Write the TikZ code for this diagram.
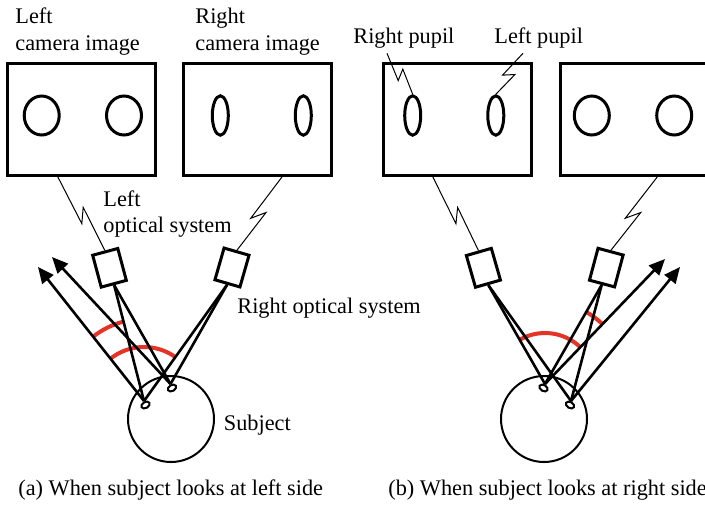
\documentclass[tikz,border=0pt]{standalone}
\usepackage{fontspec}
\setmainfont{Liberation Serif}
\usetikzlibrary{arrows.meta,calc,shapes.geometric}
\definecolor{arcred}{RGB}{228,52,38}

% a thin leader line with a small lightning-style kink
\newcommand\boltline[2]{%
  \draw[leader] (#1) -- ($(#1)!0.6!(#2)!2.5pt!-90:(#2)$)
    -- ($(#1)!0.45!(#2)!2.5pt!90:(#2)$) -- (#2);}

\begin{document}
\begin{tikzpicture}[x=0.5pt,y=-0.5pt,
  txt/.style={inner sep=0pt, anchor=base west, font=\fontsize{11.15pt}{13pt}\selectfont},
  camimg/.style={draw, line width=1.5pt, minimum width=73.85pt, minimum height=56.2pt, inner sep=0pt},
  roundpupil/.style={draw, line width=1.5pt, ellipse, inner sep=0pt, minimum width=17.5pt, minimum height=19.5pt},
  flatpupil/.style={draw, line width=1.5pt, ellipse, inner sep=0pt, minimum width=8pt, minimum height=19.7pt},
  optic/.style={draw, line width=1.5pt, minimum width=13pt, minimum height=16.5pt, inner sep=0pt},
  headc/.style={draw, line width=1pt, circle, minimum size=43pt, inner sep=0pt},
  eyepupil/.style={draw, line width=1pt, fill=white, ellipse, minimum width=4.5pt, minimum height=3pt, inner sep=0pt},
  ray/.style={line width=1.3pt},
  gaze/.style={line width=1.3pt, -{Triangle[length=8pt,width=7pt]}},
  anglemark/.style={line width=2pt, draw=arcred},
  leader/.style={line width=0.5pt},
]
\useasboundingbox (0,0) rectangle (705,504);

% ---------- camera images ----------
\node[camimg] (camLa) at (81.2,119.2) {};
\node[camimg] (camRa) at (257.5,119.2) {};
\node[camimg] (camLb) at (457.7,119.2) {};
\node[camimg] (camRb) at (634.7,119.2) {};

\node[roundpupil] (imgLa1) at (41.7,115.5) {};
\node[roundpupil] (imgLa2) at (124,115.5) {};
\node[flatpupil]  (imgRa1) at (220.3,115.5) {};
\node[flatpupil]  (imgRa2) at (303.3,115.5) {};
\node[flatpupil]  (imgLb1) at (412.7,115.5) {};
\node[flatpupil]  (imgLb2) at (495.8,115.5) {};
\node[roundpupil] (imgRb1) at (591.8,115.5) {};
\node[roundpupil] (imgRb2) at (674.2,115.5) {};

% ---------- labels ----------
\node[txt] (tLa1) at (15,23.3) {Left};
\node[txt] (tLa2) at (15,50) {camera image};
\node[txt] (tRa1) at (195,23.3) {Right};
\node[txt] (tRa2) at (195,50) {camera image};
\node[txt] (tRp) at (353,43.3) {Right pupil};
\node[txt] (tLp) at (494,43.3) {Left pupil};
\node[txt] (tLo1) at (103,206.7) {Left};
\node[txt] (tLo2) at (103,232.7) {optical system};
\node[txt] (tRo) at (237,313.3) {Right optical system};
\node[txt] (tSub) at (223.5,430) {Subject};
\node[txt] (capA) at (18,495.5) {(a) When subject looks at left side};
\node[txt] (capB) at (388,495.5) {(b) When subject looks at right side};

% ---------- optical systems ----------
\node[optic, rotate=15]  (optLa) at (109.5,267.8) {};
\node[optic, rotate=-16] (optRa) at (232,267.5) {};
\node[optic, rotate=16]  (optLb) at (483.4,267.8) {};
\node[optic, rotate=-15] (optRb) at (606.3,267.6) {};

% ---------- leaders ----------
\coordinate (ldLa) at ($(camLa.south west)!0.345!(camLa.south east)$);
\coordinate (ldRa) at ($(camRa.south west)!0.663!(camRa.south east)$);
\coordinate (ldLb) at ($(camLb.south west)!0.335!(camLb.south east)$);
\coordinate (ldRb) at ($(camRb.south west)!0.65!(camRb.south east)$);
\boltline{ldLa}{optLa.north}
\boltline{ldRa}{optRa.north}
\boltline{ldLb}{optLb.north}
\boltline{ldRb}{optRb.north}

\coordinate (ldRp) at ($(tRp.base west)+(34,10)$);
\coordinate (ldLp) at ($(tLp.base west)+(29,10)$);
\boltline{ldRp}{imgLb1.north}
\boltline{ldLp}{imgLb2.north}

% ---------- subjects ----------
\node[headc] (headA) at (171,419) {};
\node[headc] (headB) at (544,419) {};

% pupil points and gaze targets
\coordinate (pa1) at (144,401);
\coordinate (pa2) at (170.5,384);
\coordinate (pb1) at (545,384);
\coordinate (pb2) at (571,401);
\coordinate (ga1) at (38,267);
\coordinate (ga2) at (52,257);
\coordinate (gb1) at (665,259);
\coordinate (gb2) at (680,267);

% angle marks
\draw[anglemark] ($(pa1)+(-128.34:82)$) arc[start angle=-128.34, end angle=-104.43, radius=82];
\draw[anglemark] ($(pa1)+(-128.34:54)$) arc[start angle=-128.34, end angle=-54.46, radius=54];
\draw[anglemark] ($(pb1)+(-60.24:83)$) arc[start angle=-60.24, end angle=-46.17, radius=83];
\draw[anglemark] ($(pb1)+(-119.8:51)$) arc[start angle=-119.8, end angle=-46.17, radius=51];

% rays from the optical systems to the pupils
\draw[ray] (optLa.south) -- (pa1);
\draw[ray] (optLa.south) -- (pa2);
\draw[ray] (optRa.south) -- (pa1);
\draw[ray] (optRa.south) -- (pa2);
\draw[ray] (optLb.south) -- (pb1);
\draw[ray] (optLb.south) -- (pb2);
\draw[ray] (optRb.south) -- (pb1);
\draw[ray] (optRb.south) -- (pb2);

% gaze directions
\draw[gaze] (pa1) -- (ga1);
\draw[gaze] (pa2) -- (ga2);
\draw[gaze] (pb1) -- (gb1);
\draw[gaze] (pb2) -- (gb2);

% pupils
\node[eyepupil, rotate=30]  (eA1) at (145.5,405) {};
\node[eyepupil, rotate=30]  (eA2) at (172,388) {};
\node[eyepupil, rotate=-30] (eB1) at (543.5,388) {};
\node[eyepupil, rotate=-30] (eB2) at (570,405) {};
\end{tikzpicture}
\end{document}
